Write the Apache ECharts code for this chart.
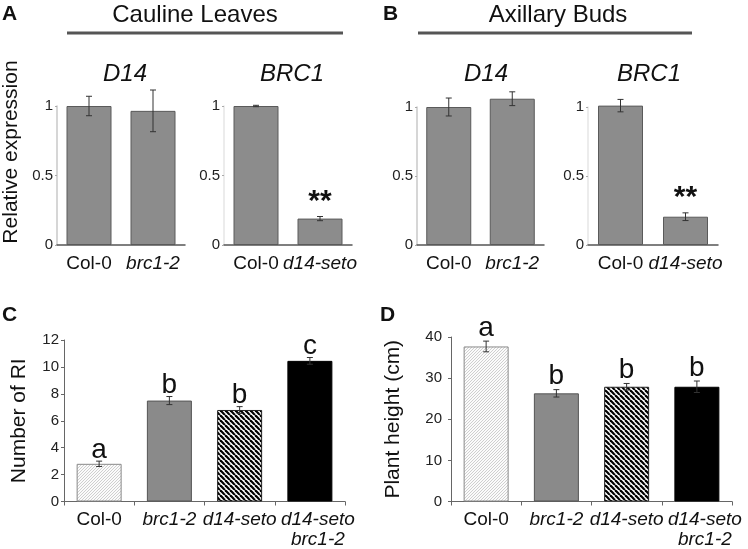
<!DOCTYPE html>
<html>
<head>
<meta charset="utf-8">
<script src="https://cdn.jsdelivr.net/npm/echarts@6/dist/echarts.min.js"></script>
<style>
  html, body { margin: 0; padding: 0; background: #fff; }
  #chart { width: 748px; height: 549px; }
</style>
</head>
<body>
<div id="chart"></div>
<script>
// data
var geneLinesD14 = ['Col-0', 'brc1-2'];
var geneLinesBRC1 = ['Col-0', 'd14-seto'];
var leafD14 = [1.0, 0.965];
var leafD14Err = [0.07, 0.15];
var leafBRC1 = [1.0, 0.19];
var leafBRC1Err = [0.005, 0.015];
var budD14 = [1.0, 1.06];
var budD14Err = [0.065, 0.05];
var budBRC1 = [1.01, 0.205];
var budBRC1Err = [0.045, 0.028];
var noMarks = ['', ''];
var brc1Stars = ['', '**'];

var plantLines = ['Col-0', 'brc1-2', 'd14-seto', 'd14-seto\nbrc1-2'];
var riCount = [2.8, 7.5, 6.8, 10.45];
var riErr = [0.2, 0.3, 0.25, 0.25];
var riLetters = ['a', 'b', 'b', 'c'];
var plantHeight = [37.7, 26.3, 27.9, 27.9];
var plantHeightErr = [1.3, 0.9, 0.8, 1.4];
var heightLetters = ['a', 'b', 'b', 'b'];

var FONT = 'Liberation Sans, Arial, sans-serif';

function stripes(size, bg, fg, lw, back) {
  var c = document.createElement('canvas');
  c.width = size; c.height = size;
  var ctx = c.getContext('2d');
  ctx.fillStyle = bg;
  ctx.fillRect(0, 0, size, size);
  ctx.strokeStyle = fg;
  ctx.lineWidth = lw;
  for (var k = -1; k <= 1; k++) {
    ctx.beginPath();
    if (back) {
      ctx.moveTo(k * size, 0); ctx.lineTo(k * size + size, size);
    } else {
      ctx.moveTo(k * size, size); ctx.lineTo(k * size + size, 0);
    }
    ctx.stroke();
  }
  return { image: c, repeat: 'repeat' };
}

var lightHatch = stripes(3, '#fbfbfb', '#c4c4c4', 0.8, false);
var darkHatch = stripes(5, '#ffffff', '#000000', 2.2, true);
var plantStyles = [
  { color: lightHatch, borderColor: '#8a8a8a', borderWidth: 1 },
  { color: '#8a8a8a', borderColor: '#555', borderWidth: 1 },
  { color: darkHatch, borderColor: '#222', borderWidth: 1 },
  { color: '#000', borderColor: '#000', borderWidth: 1 }
];

function labelFmt(v) {
  if (v === 'Col-0') return '{n|Col-0}';
  var parts = v.split('\n');
  // two-line label sits a little right of its bar in the original
  var key = parts.length > 1 ? 'j' : 'i';
  return parts.map(function (s) { return '{' + key + '|' + s + '}'; }).join('\n');
}
var labelRich = {
  n: { fontSize: 19, fontFamily: FONT, color: '#111', lineHeight: 20 },
  i: { fontSize: 19, fontFamily: FONT, color: '#111', fontStyle: 'italic', lineHeight: 20 },
  j: { fontSize: 19, fontFamily: FONT, color: '#111', fontStyle: 'italic', lineHeight: 20, padding: [0, 0, 0, 16] }
};

var grids = [
  { left: 57, top: 106, width: 128, height: 139 },
  { left: 224, top: 106, width: 128, height: 139 },
  { left: 417, top: 107, width: 127, height: 138 },
  { left: 588, top: 107, width: 130, height: 138 },
  { left: 64, top: 340, width: 281, height: 162 },
  { left: 451, top: 337, width: 281, height: 165 }
];

var xAxes = [], yAxes = [], series = [];

function addExpr(gi, cats, vals, errs, marks, yAxisLight) {
  xAxes.push({
    type: 'category', gridIndex: gi, data: cats,
    axisLine: { show: true, lineStyle: { color: '#555', width: 1.5 } },
    axisTick: { show: false },
    axisLabel: { formatter: labelFmt, rich: labelRich, margin: 9, interval: 0 }
  });
  yAxes.push({
    type: 'value', gridIndex: gi, min: 0, max: 1, interval: 0.5,
    splitLine: { show: false },
    axisLine: { show: true, lineStyle: { color: yAxisLight, width: 1.5 } },
    axisTick: { show: true, length: 2, lineStyle: { color: '#aaa' } },
    axisLabel: { fontSize: 15, fontFamily: FONT, color: '#222', margin: 4 }
  });
  series.push({
    type: 'bar', xAxisIndex: gi, yAxisIndex: gi, data: vals, barWidth: 45, clip: false,
    itemStyle: { color: '#8c8c8c', borderColor: '#5a5a5a', borderWidth: 1 }
  });
  addErr(gi, vals, errs, marks, 'bold 30px ' + FONT, 'middle', -15);
}

function addErr(gi, vals, errs, marks, font, va, gap) {
  var data = vals.map(function (v, i) { return [i, v - errs[i], v + errs[i]]; });
  series.push({
    type: 'custom', xAxisIndex: gi, yAxisIndex: gi, data: data, clip: false, z: 5,
    renderItem: function (params, api) {
      var x = api.value(0);
      var lo = api.coord([x, api.value(1)]);
      var hi = api.coord([x, api.value(2)]);
      var st = { stroke: '#333', lineWidth: 1 };
      var kids = [
        { type: 'line', shape: { x1: hi[0], y1: hi[1], x2: lo[0], y2: lo[1] }, style: st },
        { type: 'line', shape: { x1: hi[0] - 3, y1: hi[1], x2: hi[0] + 3, y2: hi[1] }, style: st },
        { type: 'line', shape: { x1: lo[0] - 3, y1: lo[1], x2: lo[0] + 3, y2: lo[1] }, style: st }
      ];
      var m = marks[params.dataIndex];
      if (m) {
        kids.push({
          type: 'text', x: hi[0], y: hi[1] + gap,
          style: { text: m, font: font, fill: '#111', textAlign: 'center', textVerticalAlign: va }
        });
      }
      return { type: 'group', children: kids };
    }
  });
}

function addPlant(gi, vals, errs, letters, maxV, step, nameText, nameGap, labelMargin, gap) {
  xAxes.push({
    type: 'category', gridIndex: gi, data: plantLines,
    axisLine: { show: true, lineStyle: { color: '#666', width: 1 } },
    axisTick: { show: true, length: 4, lineStyle: { color: '#666' } },
    axisLabel: { formatter: labelFmt, rich: labelRich, margin: 8, interval: 0 }
  });
  yAxes.push({
    type: 'value', gridIndex: gi, min: 0, max: maxV, interval: step,
    name: nameText, nameLocation: 'middle', nameGap: nameGap,
    nameTextStyle: { fontSize: 21, fontFamily: FONT, color: '#111' },
    splitLine: { show: false },
    axisLine: { show: true, lineStyle: { color: '#666', width: 1 } },
    axisTick: { show: true, length: 3, lineStyle: { color: '#666' } },
    axisLabel: { fontSize: 15, fontFamily: FONT, color: '#222', margin: labelMargin }
  });
  series.push({
    type: 'bar', xAxisIndex: gi, yAxisIndex: gi, barWidth: 45, clip: false,
    data: vals.map(function (v, i) { return { value: v, itemStyle: plantStyles[i] }; })
  });
  addErr(gi, vals, errs, letters, '28px ' + FONT, 'bottom', gap);
}

addExpr(0, geneLinesD14, leafD14, leafD14Err, noMarks, '#c8c8c8');
addExpr(1, geneLinesBRC1, leafBRC1, leafBRC1Err, brc1Stars, '#e6e6e6');
addExpr(2, geneLinesD14, budD14, budD14Err, noMarks, '#c8c8c8');
addExpr(3, geneLinesBRC1, budBRC1, budBRC1Err, brc1Stars, '#e6e6e6');
addPlant(4, riCount, riErr, riLetters, 12, 2, 'Number of RI', 34, 5, 3);
addPlant(5, plantHeight, plantHeightErr, heightLetters, 40, 10, 'Plant height (cm)', 47, 9, 1);

function txt(x, y, s, font, align, rot) {
  return {
    type: 'text', x: x, y: y, rotation: rot || 0,
    style: { text: s, font: font, fill: '#111', textAlign: align || 'center', textVerticalAlign: 'middle' }
  };
}

var graphics = [
  txt(2, 14, 'A', 'bold 21px ' + FONT, 'left'),
  txt(195, 15, 'Cauline Leaves', '24px ' + FONT),
  { type: 'line', shape: { x1: 67, y1: 33, x2: 343, y2: 33 }, style: { stroke: '#555', lineWidth: 3 } },
  txt(125, 74, 'D14', 'italic 24px ' + FONT),
  txt(292, 74, 'BRC1', 'italic 24px ' + FONT),
  txt(383, 14, 'B', 'bold 21px ' + FONT, 'left'),
  txt(558, 15, 'Axillary Buds', '24px ' + FONT),
  { type: 'line', shape: { x1: 418, y1: 33, x2: 692, y2: 33 }, style: { stroke: '#555', lineWidth: 3 } },
  txt(486, 74, 'D14', 'italic 24px ' + FONT),
  txt(649, 74, 'BRC1', 'italic 24px ' + FONT),
  txt(11, 152, 'Relative expression', '21px ' + FONT, 'center', Math.PI / 2),
  txt(2, 315, 'C', 'bold 21px ' + FONT, 'left'),
  txt(380, 315, 'D', 'bold 21px ' + FONT, 'left')
];

var chart = echarts.init(document.getElementById('chart'));
chart.setOption({
  animation: false,
  grid: grids,
  xAxis: xAxes,
  yAxis: yAxes,
  series: series,
  graphic: { elements: graphics }
});
</script>
</body>
</html>
